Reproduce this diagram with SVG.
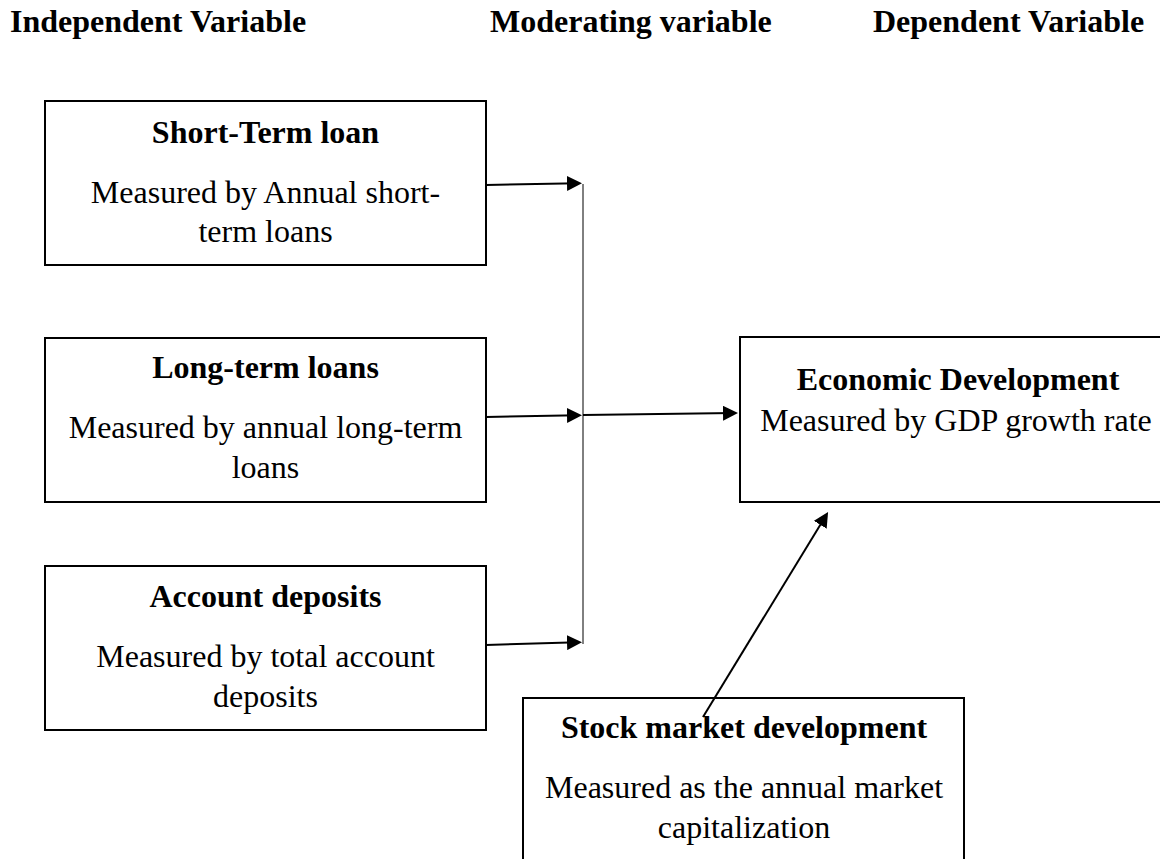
<svg xmlns="http://www.w3.org/2000/svg" width="1160" height="859" viewBox="0 0 1160 859">
<defs>
<marker id="ah" viewBox="0 0 15 15" refX="11" refY="7.5" markerWidth="15" markerHeight="15" markerUnits="userSpaceOnUse" orient="auto">
<path d="M0,0 L15,7.5 L0,15 Z" fill="#000"/>
</marker>
<style>
text{font-family:"Liberation Serif","Times New Roman",serif;fill:#000;font-size:32px}
.h{font-weight:bold}
.t{font-weight:bold;text-anchor:middle}
.b{text-anchor:middle}
.box{fill:#fff;stroke:#000;stroke-width:2}
.c{stroke:#000;stroke-width:2;fill:none}
.thin{stroke:#000;stroke-width:1;fill:none}
</style>
</defs>
<rect width="1160" height="859" fill="#fff"/>
<g id="headers">
<text class="h" x="10" y="32">Independent Variable</text>
<text class="h" x="490" y="32">Moderating variable</text>
<text class="h" x="873" y="32">Dependent Variable</text>
</g>
<g id="short-term">
<rect class="box" x="45" y="101" width="441" height="164"/>
<text class="t" x="265.5" y="143">Short-Term loan</text>
<text class="b" x="265.5" y="203">Measured by Annual short-</text>
<text class="b" x="265.5" y="242">term loans</text>
</g>
<g id="long-term">
<rect class="box" x="45" y="338" width="441" height="164"/>
<text class="t" x="265.5" y="378">Long-term loans</text>
<text class="b" x="265.5" y="438">Measured by annual long-term</text>
<text class="b" x="265.5" y="478">loans</text>
</g>
<g id="account">
<rect class="box" x="45" y="566" width="441" height="164"/>
<text class="t" x="265.5" y="607">Account deposits</text>
<text class="b" x="265.5" y="667">Measured by total account</text>
<text class="b" x="265.5" y="707">deposits</text>
</g>
<g id="economic">
<rect class="box" x="740" y="337" width="441" height="165"/>
<text class="t" x="958" y="390">Economic Development</text>
<text class="b" x="956" y="431">Measured by GDP growth rate</text>
</g>
<g id="stock">
<rect class="box" x="523" y="698" width="441" height="180"/>
<text class="t" x="744" y="738">Stock market development</text>
<text class="b" x="744" y="798">Measured as the annual market</text>
<text class="b" x="744" y="838">capitalization</text>
</g>
<g id="connectors">
<line class="thin" x1="583" y1="184" x2="583" y2="644"/>
<line class="c" x1="486" y1="185" x2="578" y2="183.3" marker-end="url(#ah)"/>
<line class="c" x1="486" y1="417" x2="578" y2="415.3" marker-end="url(#ah)"/>
<line class="c" x1="486" y1="645" x2="578" y2="642.3" marker-end="url(#ah)"/>
<line class="c" x1="583" y1="415" x2="734" y2="413.1" marker-end="url(#ah)"/>
<line class="c" x1="703" y1="717" x2="826" y2="515.4" marker-end="url(#ah)"/>
</g>
</svg>
